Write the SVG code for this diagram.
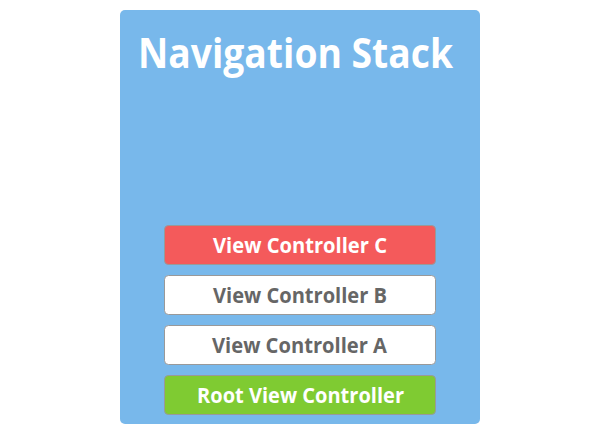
<svg xmlns="http://www.w3.org/2000/svg" width="600" height="435" viewBox="0 0 600 435">
<style>
.box{stroke:#999;stroke-width:1}
.lbl{font-family:"Open Sans","Liberation Sans",sans-serif;font-weight:bold;font-size:21px;text-anchor:middle}
.title{font-family:"Open Sans","Liberation Sans",sans-serif;font-weight:bold;font-size:42px;fill:#fff;text-anchor:middle}
</style>
<rect width="600" height="435" fill="#fff"/>
<g id="stack">
<rect x="120" y="10" width="360" height="414" rx="5" fill="#78B8EB"/>
<text class="title" x="295.5" y="68" textLength="315" lengthAdjust="spacingAndGlyphs">Navigation Stack</text>
</g>
<g id="vcC">
<rect class="box" x="164.5" y="225.5" width="271" height="39" rx="4" fill="#F45A5B"/>
<text class="lbl" x="300" y="252.5" fill="#fff" textLength="174" lengthAdjust="spacingAndGlyphs">View Controller C</text>
</g>
<g id="vcB">
<rect class="box" x="164.5" y="275.5" width="271" height="39" rx="4" fill="#fff"/>
<text class="lbl" x="300" y="302.5" fill="#666" textLength="174" lengthAdjust="spacingAndGlyphs">View Controller B</text>
</g>
<g id="vcA">
<rect class="box" x="164.5" y="325.5" width="271" height="39" rx="4" fill="#fff"/>
<text class="lbl" x="299.5" y="352.5" fill="#666" textLength="175" lengthAdjust="spacingAndGlyphs">View Controller A</text>
</g>
<g id="root">
<rect class="box" x="164.5" y="375.5" width="271" height="39" rx="4" fill="#7FCB32"/>
<text class="lbl" x="300.5" y="402.5" fill="#fff" textLength="207" lengthAdjust="spacingAndGlyphs">Root View Controller</text>
</g>
<g id="connectors"/>
</svg>
